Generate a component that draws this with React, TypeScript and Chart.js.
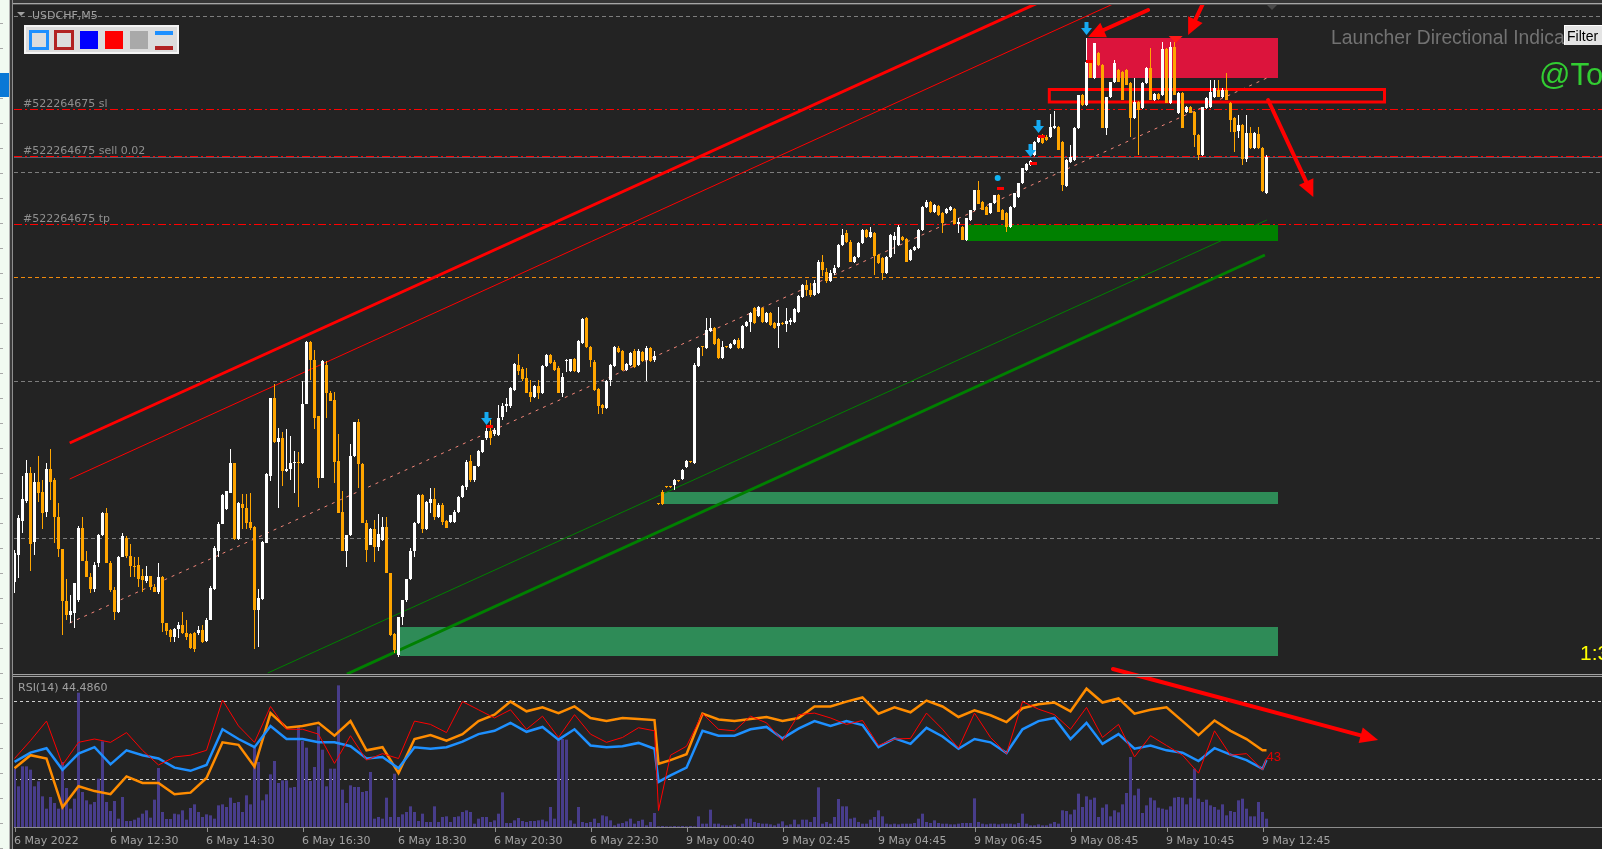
import { useEffect, useRef } from 'react';
import { Chart, registerables } from 'chart.js';

Chart.register(...registerables);

/* ===================== DATA ===================== */
// Prices are stored in points (0.00001) above BASE_PRICE.
const BASE_PRICE = 0.98;
const POINT = 0.00001;

const opens: number[] = [
  418,445,479,499,527,458,518,508,488,531,
  520,483,451,399,385,387,400,472,439,423,
  411,437,465,487,437,410,388,443,462,444,
  434,435,424,419,424,413,408,423,377,370,
  363,371,375,367,366,367,367,370,359,380,
  411,449,476,491,507,537,461,496,492,478,
  473,390,401,457,524,602,558,562,529,531,
  537,538,537,596,658,640,584,522,635,607,
  600,539,488,449,465,544,578,536,477,455,
  471,453,460,473,427,366,345,383,400,421,
  449,477,505,471,497,501,483,495,479,478,
  478,488,503,513,539,520,534,548,562,569,
  566,565,583,594,594,610,635,631,622,608,
  603,614,607,634,645,638,632,607,639,629,
  641,628,657,682,653,638,611,595,592,620,
  634,652,649,630,635,649,635,648,640,652,
  640,497,508,513,513,515,519,521,533,538,
  537,634,653,652,669,672,661,642,653,652,
  656,660,652,674,678,692,684,692,678,687,
  677,674,677,676,678,678,688,703,715,710,
  705,707,738,728,719,727,733,755,767,758,
  738,743,757,770,763,767,745,742,727,743,
  760,755,763,761,740,750,752,770,793,798,
  788,794,787,787,790,791,776,773,760,780,
  790,810,798,793,787,797,805,790,787,773,
  793,803,817,830,835,845,858,863,863,863,
  872,873,858,814,838,840,872,905,895,938,
  922,947,935,872,903,918,930,928,930,917,
  882,898,892,917,932,900,906,905,951,897,
  953,887,907,888,893,888,865,845,892,893,
  903,910,903,910,897,882,869,875,841,867,
  852,866,852,807,
];
const highs: number[] = [
  450,485,524,540,533,527,544,520,537,551,
  522,497,451,421,405,417,474,483,449,427,
  438,466,488,492,439,413,444,467,464,456,
  443,443,431,434,424,416,437,424,377,371,
  372,378,388,380,367,368,374,375,382,414,
  454,478,506,509,551,537,498,506,506,507,
  474,411,459,527,602,616,572,568,571,564,
  549,548,619,659,659,650,584,640,639,609,
  608,566,509,465,556,578,581,537,480,472,
  480,486,483,483,427,367,383,400,421,452,
  478,506,506,499,512,512,497,497,480,485,
  490,504,515,540,545,534,550,560,572,580,
  572,595,597,602,613,637,646,633,632,620,
  615,620,635,646,646,640,634,627,641,641,
  642,660,682,683,654,640,612,596,620,636,
  654,654,650,637,648,651,651,649,654,653,
  649,497,510,514,514,521,520,531,540,539,
  637,653,654,682,682,673,662,659,654,657,
  661,662,675,679,688,693,694,693,688,688,
  678,693,678,692,682,692,705,716,720,717,
  720,740,745,732,730,735,756,771,770,760,
  744,758,771,771,773,768,746,743,744,766,
  768,775,764,762,751,754,771,794,800,799,
  796,795,788,792,794,792,782,774,782,790,
  810,819,799,794,797,805,806,791,788,794,
  807,817,832,837,840,859,864,866,865,886,
  889,874,859,841,855,873,905,906,962,939,
  957,948,936,903,918,940,931,929,931,918,
  922,899,918,933,952,907,907,958,952,958,
  958,908,908,894,894,889,866,893,903,920,
  920,920,912,927,898,883,885,876,885,873,
  868,873,853,845,
];
const lows: number[] = [
  407,422,467,497,429,445,498,471,483,500,
  457,443,365,380,377,372,398,439,423,407,
  408,433,464,437,408,380,387,443,442,423,
  423,413,408,417,410,408,406,368,365,358,
  358,362,366,360,351,348,365,357,358,380,
  410,443,476,490,507,460,460,471,471,470,
  351,353,400,457,519,557,492,514,528,520,
  507,493,536,596,620,571,512,522,582,599,
  517,487,449,433,464,543,512,477,438,455,
  438,449,459,427,364,347,343,375,398,420,
  443,476,467,470,487,480,482,475,472,477,
  477,487,502,510,518,518,533,547,560,555,
  564,564,580,588,592,609,625,619,607,598,
  602,601,606,633,636,629,607,603,628,628,
  628,627,656,652,633,609,586,586,591,614,
  633,647,629,629,634,632,634,638,619,638,
  638,495,495,512,512,510,518,520,532,537,
  536,633,644,651,668,655,641,641,652,651,
  655,651,651,673,668,676,683,677,677,674,
  671,652,675,668,675,677,687,702,704,703,
  704,706,724,717,718,725,732,754,757,738,
  737,742,756,762,762,725,736,720,726,742,
  746,754,759,738,739,749,751,769,792,787,
  787,784,767,786,789,776,767,760,759,779,
  789,796,790,785,786,796,788,780,768,772,
  792,802,816,829,834,844,857,856,859,862,
  871,850,809,813,837,839,871,894,894,922,
  921,934,872,865,902,917,918,900,915,863,
  881,845,891,916,900,899,900,904,897,896,
  905,886,872,887,887,853,840,844,891,892,
  902,903,902,900,868,848,862,835,838,851,
  851,851,808,806,
];
const closes: number[] = [
  447,482,501,527,456,518,507,487,531,518,
  483,451,399,385,389,417,472,439,423,411,
  435,465,487,437,410,388,443,464,444,434,
  433,421,420,424,413,408,423,377,369,363,
  371,375,367,363,352,351,370,358,380,412,
  452,476,505,509,537,461,497,492,477,472,
  390,402,458,526,602,558,562,529,531,537,
  538,537,596,658,640,582,522,639,607,599,
  538,487,449,465,544,578,536,477,450,471,
  453,466,473,427,365,350,383,400,421,449,
  477,505,471,498,501,483,495,478,472,485,
  488,503,514,538,520,534,549,560,569,562,
  570,582,594,596,612,636,629,621,607,603,
  614,607,634,645,637,630,607,623,640,641,
  629,659,681,653,640,610,594,592,619,635,
  653,648,630,636,647,633,649,639,652,639,
  644,496,496,513,513,520,519,530,539,538,
  635,652,653,670,672,656,642,653,653,656,
  660,652,674,678,687,677,693,678,687,675,
  672,677,676,679,680,691,704,715,710,705,
  717,738,730,719,727,732,755,765,758,738,
  743,757,770,763,768,744,737,727,743,765,
  764,773,760,738,750,753,770,793,798,788,
  795,785,777,791,793,776,778,760,782,790,
  810,796,790,785,797,805,788,780,773,793,
  807,817,832,836,839,858,863,857,860,873,
  874,850,815,840,843,872,905,895,938,922,
  957,935,872,903,918,937,918,900,915,882,
  898,890,917,932,900,906,901,951,897,953,
  905,907,872,893,887,865,845,893,902,908,
  912,903,910,900,880,868,875,841,867,852,
  867,852,809,843,
];
// tick volume
const volumes: number[] = [
  175,122,182,182,172,122,137,92,55,90,
  72,55,195,117,55,85,403,105,80,68,
  75,145,257,75,48,78,25,90,18,18,
  22,28,40,50,28,82,177,45,24,24,
  40,38,50,22,57,68,45,30,38,35,
  25,65,68,60,88,72,75,45,95,68,
  238,195,80,98,158,198,132,140,140,118,
  120,302,258,238,138,180,302,232,122,175,
  175,425,112,72,125,120,120,105,108,165,
  25,30,25,88,30,160,30,38,45,62,
  45,18,40,15,15,62,15,30,32,15,
  30,32,45,50,45,10,25,30,30,15,
  20,40,104,12,12,20,27,18,15,18,
  18,20,22,17,60,25,262,264,262,20,
  10,60,15,12,15,25,12,35,32,20,
  5,10,12,17,25,10,18,22,5,15,
  42,2,3,2,2,3,2,3,2,3,
  2,32,10,10,52,10,10,5,5,5,
  8,2,10,25,25,15,12,10,10,8,
  5,10,17,5,8,22,8,22,22,15,
  30,119,10,15,10,30,84,62,62,25,
  28,15,10,10,22,30,50,32,10,8,
  10,8,10,10,10,12,25,40,15,12,
  20,12,10,10,8,8,10,12,12,12,
  86,15,10,8,10,10,8,10,10,10,
  8,12,40,10,5,5,8,5,5,10,
  15,10,50,48,38,52,100,60,92,82,
  88,30,58,68,32,50,44,68,102,210,
  95,115,42,65,88,80,58,55,52,62,
  88,90,88,68,88,175,85,75,82,65,
  60,52,68,35,48,45,80,85,55,32,
  32,75,45,25,
];

const timeTickBars: number[] = [0, 24, 48, 72, 96, 120, 144, 168, 192, 216, 240, 264, 288, 312];
const timeTickLabels: string[] = [
  '6 May 2022', '6 May 12:30', '6 May 14:30', '6 May 16:30', '6 May 18:30', '6 May 20:30',
  '6 May 22:30', '9 May 00:40', '9 May 02:45', '9 May 04:45', '9 May 06:45', '9 May 08:45',
  '9 May 10:45', '9 May 12:45',
];

// oscillator samples (bar index -> value)
const rsiBars: number[] = [
  0,4,8,12,16,20,24,28,32,36,40,44,48,52,56,60,64,68,72,76,80,84,88,92,96,100,104,108,112,116,
  120,124,128,132,136,140,144,148,152,156,160,161,164,168,172,176,180,184,188,192,196,200,204,
  208,212,216,220,224,228,232,236,240,244,248,252,256,260,264,268,272,276,280,284,288,292,296,
  300,304,308,312,313,
];
const rsiBlue: number[] = [
  38.8,43.5,45.8,34.7,43.0,46.3,37.5,44.7,42.2,40.5,
  35.8,34.2,37.2,55.5,50.5,46.3,57.2,50.5,50.5,48.8,
  48.8,46.8,40.5,41.3,35.5,46.3,45.5,46.3,49.2,53.0,
  54.7,58.8,54.2,56.7,50.2,55.5,47.2,46.3,46.8,48.5,
  45.5,28.5,31.8,35.8,54.7,52.2,52.2,55.5,56.7,50.8,
  55.8,59.7,57.2,59.7,57.7,46.3,50.8,48.0,56.2,51.8,
  45.5,50.5,48.8,43.3,55.5,59.7,61.3,50.5,58.8,48.0,
  53.0,45.5,47.2,44.7,43.5,39.2,45.8,42.5,39.7,35.2,
  39.7,
];
const rsiOrange: number[] = [
  35.5,42.2,40.5,15.5,26.3,23.8,22.2,31.3,28.0,28.0,
  22.2,23.0,30.5,48.8,47.5,36.3,63.8,56.3,57.2,58.8,
  52.2,59.7,44.7,46.3,33.0,50.5,52.5,49.7,53.0,59.7,
  63.0,69.7,64.7,66.8,63.8,67.2,61.3,59.7,61.3,60.8,
  60.2,37.8,39.7,42.7,63.5,60.5,59.7,60.8,61.8,59.7,
  61.3,67.2,67.2,69.7,71.8,63.5,66.8,64.2,70.2,67.2,
  61.8,65.2,62.7,59.2,66.3,68.3,69.2,64.7,76.3,69.2,
  71.3,63.5,65.5,66.8,59.7,52.5,60.0,54.7,50.5,44.7,
  44.7,
];
const rsiRed: number[] = [
  40.5,49.7,59.7,37.2,48.8,50.5,48.8,53.8,44.7,37.2,
  41.3,42.2,44.7,70.5,57.2,48.8,67.2,55.5,55.5,53.0,
  38.0,52.2,39.7,43.0,40.5,59.7,58.0,53.8,69.7,65.5,
  61.3,65.5,55.5,62.2,51.3,63.0,53.0,48.8,51.3,56.3,
  54.7,13.8,42.2,46.8,63.5,55.5,54.7,62.2,58.8,49.7,
  63.0,63.8,61.3,58.0,60.0,47.2,50.5,50.8,63.8,55.5,
  45.8,63.8,51.3,43.0,69.7,65.8,63.0,55.5,66.7,51.3,
  58.0,41.3,52.2,47.2,42.2,33.0,54.7,42.2,43.0,34.7,
  40.5,
];
const rsiLevels: number[] = [70, 30];
const rsiTitle = 'RSI(14) 44.4860';
const rsiMarkLabel = '43';
const rsiMarkValue = 43;

// horizontal levels (points above BASE_PRICE)
const grayLevelPts: number[] = [984, 828, 619, 462];
const orangeLevelPts: number[] = [723];
const orderLabels: string[] = ['#522264675 sl', '#522264675 sell 0.02', '#522264675 tp'];
const orderPts: number[] = [891, 844, 776];

// zones: [fromBar, toBar, topPts, bottomPts]
const supplyZone: number[] = [268.0, 315.9, 962, 922];
const demandZoneNear: number[] = [238.2, 315.9, 775, 759];
const demandZoneMid: number[] = [162.1, 315.9, 508, 496];
const demandZoneFar: number[] = [96.4, 315.9, 373, 344];
const entryBox: number[] = [258.7, 342.5, 910.5, 898];

// trend lines: [bar1, pts1, bar2, pts2]
const redChannelUpper: number[] = [13.8, 557, 93.0, 701];
const redChannelLower: number[] = [13.8, 521, 108.8, 694];
const midRegression: number[] = [13.8, 377, 313.1, 922];
const greenChannelUpper: number[] = [63.3, 327, 313.1, 780];
const greenChannelLower: number[] = [83.1, 326, 312.6, 745];

// annotation arrows: [fromBar, fromPts, toBar, toPts]
const priceArrows: number[][] = [
  [283.4, 990, 268.4, 963],
  [297.9, 1003, 293.4, 965],
  [313.4, 900, 324.7, 803],
];
const rsiArrow: number[] = [274.6, 86.4, 340.9, 50.0];

const sellSignalBars: number[] = [118, 254, 256, 268];
const entryMarks: number[][] = [[118, 574], [246, 812], [254, 837], [256, 864], [268, 939]];
const dotMark: number[] = [245.8, 822];
const peakMark: number[] = [290.3, 964];

/* ===================== LAYOUT ===================== */
const W = 1602;
const H = 849;
const PLOT_LEFT = 14;
const FIRST_BAR_X = 14.5;
const BAR_PX = 4;
const MAIN_TOP = 5;
const MAIN_BOTTOM = 674;
const RSI_CANVAS_TOP = 656;
const RSI_PAD_TOP = 20;
const RSI_PAD_BOTTOM = 22;
const X_MIN = (PLOT_LEFT - FIRST_BAR_X) / BAR_PX;
const X_MAX = X_MIN + (W - PLOT_LEFT) / BAR_PX;
const PRICE_MIN = BASE_PRICE + 326 * POINT;
const PRICE_MAX = BASE_PRICE + 995 * POINT;
const RSI_MIN = 5.38;
const RSI_MAX = 82.82;
const VOL_MAX = 453;

const BULL = '#ffffff';
const BEAR = '#ffa500';

const toPrice = (pts: number) => BASE_PRICE + pts * POINT;

function drawArrow(ctx: any, x1: number, y1: number, x2: number, y2: number, color: string, width: number, headLen: number, headHalf: number) {
  const ang = Math.atan2(y2 - y1, x2 - x1);
  const bx = x2 - headLen * Math.cos(ang);
  const by = y2 - headLen * Math.sin(ang);
  ctx.save();
  ctx.setLineDash([]);
  ctx.strokeStyle = color;
  ctx.lineWidth = width;
  ctx.lineCap = 'round';
  ctx.beginPath();
  ctx.moveTo(x1, y1);
  ctx.lineTo(bx, by);
  ctx.stroke();
  ctx.fillStyle = color;
  ctx.beginPath();
  ctx.moveTo(x2, y2);
  ctx.lineTo(bx + headHalf * Math.sin(ang), by - headHalf * Math.cos(ang));
  ctx.lineTo(bx - headHalf * Math.sin(ang), by + headHalf * Math.cos(ang));
  ctx.closePath();
  ctx.fill();
  ctx.restore();
}

function downArrow(ctx: any, cx: number, bottom: number, color: string) {
  ctx.fillStyle = color;
  ctx.beginPath();
  ctx.moveTo(cx - 2, bottom - 13);
  ctx.lineTo(cx + 2, bottom - 13);
  ctx.lineTo(cx + 2, bottom - 7);
  ctx.lineTo(cx + 5.5, bottom - 7);
  ctx.lineTo(cx, bottom);
  ctx.lineTo(cx - 5.5, bottom - 7);
  ctx.lineTo(cx - 2, bottom - 7);
  ctx.closePath();
  ctx.fill();
}

const mainOverlay = {
  id: 'mainOverlay',
  beforeDatasetsDraw(chart: any) {
    const { ctx, chartArea: a } = chart;
    const X = (b: number) => chart.scales.x.getPixelForValue(b);
    const Y = (p: number) => chart.scales.y.getPixelForValue(toPrice(p));
    ctx.save();
    ctx.beginPath();
    ctx.rect(a.left, a.top, a.right - a.left, a.bottom - a.top);
    ctx.clip();

    const zone = (z: number[], color: string) => {
      const x1 = Math.round(X(z[0]));
      const x2 = Math.round(X(z[1]));
      const y1 = Math.round(Y(z[2]));
      const y2 = Math.round(Y(z[3]));
      ctx.fillStyle = color;
      ctx.fillRect(x1, y1, x2 - x1, y2 - y1);
    };
    zone(supplyZone, '#dc143c');
    zone(demandZoneNear, '#008000');
    zone(demandZoneMid, '#2e8b57');
    zone(demandZoneFar, '#2e8b57');

    const hline = (p: number, color: string, dash: number[]) => {
      const y = Math.round(Y(p)) + 0.5;
      ctx.strokeStyle = color;
      ctx.lineWidth = 1;
      ctx.setLineDash(dash);
      ctx.beginPath();
      ctx.moveTo(a.left, y);
      ctx.lineTo(a.right, y);
      ctx.stroke();
    };
    grayLevelPts.forEach((p) => hline(p, '#7d7d7d', [4, 3]));
    orangeLevelPts.forEach((p) => hline(p, '#f08a0c', [4, 3]));
    hline(closes[closes.length - 1], '#5c5c68', []);
    orderPts.forEach((p) => hline(p, '#ff0000', [8, 3, 2, 3]));

    ctx.setLineDash([]);
    ctx.font = '11px "DejaVu Sans"';
    ctx.fillStyle = '#8e8e8e';
    ctx.textAlign = 'left';
    ctx.textBaseline = 'alphabetic';
    orderPts.forEach((p, k) => {
      ctx.fillText(orderLabels[k], a.left + 9, Math.round(Y(p)) - 2);
    });

    const seg = (l: number[], color: string, width: number, dash: number[], ray: boolean) => {
      let x1 = X(l[0]);
      let y1 = Y(l[1]);
      let x2 = X(l[2]);
      let y2 = Y(l[3]);
      if (ray) {
        const k = (y2 - y1) / (x2 - x1);
        x2 = a.right + 40;
        y2 = y1 + k * (x2 - x1);
      }
      ctx.strokeStyle = color;
      ctx.lineWidth = width;
      ctx.setLineDash(dash);
      ctx.beginPath();
      ctx.moveTo(x1, y1);
      ctx.lineTo(x2, y2);
      ctx.stroke();
    };
    seg(midRegression, '#f4877a', 1, [3, 5], false);
    seg(redChannelUpper, '#ff0000', 3, [], true);
    seg(redChannelLower, '#ff0000', 1, [], true);
    seg(greenChannelUpper, '#008000', 1, [], false);
    seg(greenChannelLower, '#008000', 3, [], false);

    // entry box outline
    ctx.setLineDash([]);
    ctx.strokeStyle = '#ff0000';
    ctx.lineWidth = 3;
    const bx1 = X(entryBox[0]);
    const bx2 = X(entryBox[1]);
    const by1 = Y(entryBox[2]);
    const by2 = Y(entryBox[3]);
    ctx.strokeRect(bx1, by1, bx2 - bx1, by2 - by1);
    ctx.restore();
  },
  afterDatasetsDraw(chart: any) {
    const { ctx } = chart;
    const X = (b: number) => chart.scales.x.getPixelForValue(b);
    const Y = (p: number) => chart.scales.y.getPixelForValue(toPrice(p));
    ctx.save();
    entryMarks.forEach((m) => {
      ctx.fillStyle = '#ff0000';
      ctx.fillRect(Math.round(X(m[0]) - 1), Math.round(Y(m[1]) - 1), 7, 3);
    });
    ctx.fillStyle = '#10b4f4';
    ctx.beginPath();
    ctx.arc(X(dotMark[0]), Y(dotMark[1]), 3, 0, Math.PI * 2);
    ctx.fill();
    sellSignalBars.forEach((b) => downArrow(ctx, X(b), Y(highs[b]) - 3, '#16abf2'));
    // peak marker
    const px = X(peakMark[0]);
    const py = Y(peakMark[1]);
    ctx.fillStyle = '#ff1a1a';
    ctx.beginPath();
    ctx.moveTo(px - 7, py);
    ctx.lineTo(px + 7, py);
    ctx.lineTo(px, py + 7);
    ctx.closePath();
    ctx.fill();
    priceArrows.forEach((r) => drawArrow(ctx, X(r[0]), Y(r[1]), X(r[2]), Y(r[3]), '#ff0000', 4, 17, 8));
    ctx.restore();
  },
};

const rsiOverlay = {
  id: 'rsiOverlay',
  beforeDatasetsDraw(chart: any) {
    const { ctx, chartArea: a } = chart;
    const Y = (v: number) => chart.scales.y.getPixelForValue(v);
    ctx.save();
    ctx.strokeStyle = '#cfcfcf';
    ctx.lineWidth = 1;
    ctx.setLineDash([3, 3]);
    rsiLevels.forEach((l) => {
      const y = Math.round(Y(l)) + 0.5;
      ctx.beginPath();
      ctx.moveTo(a.left, y);
      ctx.lineTo(a.right, y);
      ctx.stroke();
    });
    ctx.restore();
  },
  afterDraw(chart: any) {
    const { ctx, chartArea: a, width } = chart;
    const X = (b: number) => chart.scales.x.getPixelForValue(b);
    const Y = (v: number) => chart.scales.y.getPixelForValue(v);
    ctx.save();
    // level mark text
    ctx.font = '13px "Liberation Sans"';
    ctx.fillStyle = '#e00000';
    ctx.textAlign = 'left';
    ctx.textBaseline = 'alphabetic';
    ctx.fillText(rsiMarkLabel, X(rsiBars[rsiBars.length - 1]), Y(rsiMarkValue) + 7);
    // arrow
    drawArrow(ctx, X(rsiArrow[0]), Y(rsiArrow[1]), X(rsiArrow[2]), Y(rsiArrow[3]), '#ff0000', 4, 18, 8);
    // time axis
    ctx.fillStyle = '#8c8c8c';
    ctx.fillRect(0, Math.round(a.bottom), width, 1);
    ctx.font = '11px "DejaVu Sans"';
    timeTickBars.forEach((b, k) => {
      const x = Math.round(X(b));
      ctx.fillStyle = '#8c8c8c';
      ctx.fillRect(x, Math.round(a.bottom) + 1, 1, 4);
      ctx.fillStyle = '#a2a2a2';
      ctx.fillText(timeTickLabels[k], x - 1, Math.round(a.bottom) + 17);
    });
    ctx.restore();
  },
};

function candleColor(i: number) {
  return closes[i] > opens[i] ? BULL : BEAR;
}

function mainConfig(): any {
  const n = Math.min(opens.length, highs.length, lows.length, closes.length);
  const bodies: any[] = [];
  const wicks: any[] = [];
  for (let i = 0; i < n; i++) {
    bodies.push({ x: i, y: [toPrice(opens[i]), toPrice(closes[i])] });
    wicks.push({ x: i, y: [toPrice(lows[i]), toPrice(highs[i])] });
  }
  return {
    type: 'bar',
    data: {
      datasets: [
        {
          label: 'body',
          data: bodies,
          backgroundColor: (c: any) => candleColor(c.dataIndex),
          barThickness: 3,
          grouped: false,
          minBarLength: 1,
          inflateAmount: 0,
          borderWidth: 0,
          order: 0,
        },
        {
          label: 'wick',
          data: wicks,
          backgroundColor: (c: any) => candleColor(c.dataIndex),
          barThickness: 1,
          grouped: false,
          minBarLength: 1,
          inflateAmount: 0,
          borderWidth: 0,
          order: 1,
        },
      ],
    },
    options: {
      animation: false,
      responsive: false,
      devicePixelRatio: 1,
      events: [],
      layout: { padding: 0 },
      plugins: { legend: { display: false }, tooltip: { enabled: false }, title: { display: false } },
      scales: {
        x: { type: 'linear', min: X_MIN, max: X_MAX, display: false, offset: false },
        y: { type: 'linear', min: PRICE_MIN, max: PRICE_MAX, display: false, beginAtZero: false },
      },
    },
    plugins: [mainOverlay],
  };
}

function rsiConfig(): any {
  const line = (vals: number[]) => rsiBars.map((b, k) => ({ x: b, y: vals[k] }));
  return {
    type: 'bar',
    data: {
      datasets: [
        {
          type: 'line',
          label: 'rsi',
          data: line(rsiRed),
          borderColor: '#ff0000',
          borderWidth: 1,
          pointRadius: 0,
          tension: 0,
          yAxisID: 'y',
          order: 0,
        },
        {
          type: 'line',
          label: 'fast',
          data: line(rsiBlue),
          borderColor: '#1e90ff',
          borderWidth: 2.5,
          pointRadius: 0,
          tension: 0,
          yAxisID: 'y',
          order: 1,
        },
        {
          type: 'line',
          label: 'slow',
          data: line(rsiOrange),
          borderColor: '#ff8c00',
          borderWidth: 2.5,
          pointRadius: 0,
          tension: 0,
          yAxisID: 'y',
          order: 2,
        },
        {
          type: 'bar',
          label: 'volume',
          data: volumes.map((v, i) => ({ x: i, y: v })),
          backgroundColor: '#483d8b',
          barThickness: 3,
          grouped: false,
          inflateAmount: 0,
          borderWidth: 0,
          yAxisID: 'yv',
          order: 3,
        },
      ],
    },
    options: {
      animation: false,
      responsive: false,
      devicePixelRatio: 1,
      events: [],
      layout: { padding: { top: RSI_PAD_TOP, bottom: RSI_PAD_BOTTOM, left: 0, right: 0 } },
      plugins: { legend: { display: false }, tooltip: { enabled: false } },
      scales: {
        x: { type: 'linear', min: X_MIN, max: X_MAX, display: false, offset: false },
        y: { type: 'linear', min: RSI_MIN, max: RSI_MAX, display: false },
        yv: { type: 'linear', min: 0, max: VOL_MAX, display: false },
      },
    },
    plugins: [rsiOverlay],
  };
}

const abs = (s: any) => ({ position: 'absolute', ...s });
const text = (s: any) => ({ position: 'absolute', whiteSpace: 'nowrap', lineHeight: 1, ...s });

export default function App() {
  const mainRef = useRef<HTMLCanvasElement>(null);
  const rsiRef = useRef<HTMLCanvasElement>(null);

  useEffect(() => {
    const main = new Chart(mainRef.current as HTMLCanvasElement, mainConfig());
    const rsi = new Chart(rsiRef.current as HTMLCanvasElement, rsiConfig());
    return () => {
      main.destroy();
      rsi.destroy();
    };
  }, []);

  const stripTicks = Array.from({ length: 34 }, (_, k) => 23 + 25 * k);

  return (
    <div style={{ position: 'fixed', left: 0, top: 0, width: W, height: H, background: '#232323', overflow: 'hidden' }}>
      {/* left terminal strip */}
      <div style={abs({ left: 0, top: 0, width: 9, height: H, background: '#f1faf1' })} />
      {stripTicks.map((y) => (
        <div key={y} style={abs({ left: 0, top: y, width: 3, height: 1, background: '#a8a8a8' })} />
      ))}
      <div style={abs({ left: 0, top: 73, width: 9, height: 24, background: '#0a78d6' })} />
      <div style={abs({ left: 9, top: 0, width: 1, height: H, background: '#b4b4b4' })} />
      <div style={abs({ left: 10, top: 0, width: 2, height: H, background: '#3a3a3a' })} />
      <div style={abs({ left: 12, top: 0, width: 1, height: H, background: '#8e8e8e' })} />
      {/* top frame */}
      <div style={abs({ left: 13, top: 0, width: W, height: 3, background: '#353535' })} />
      <div style={abs({ left: 13, top: 3, width: W, height: 1, background: '#a6a6a6' })} />
      <div style={abs({ left: 13, top: 4, width: W, height: 1, background: '#505050' })} />

      <canvas ref={mainRef} width={W - PLOT_LEFT} height={MAIN_BOTTOM - MAIN_TOP} style={abs({ left: PLOT_LEFT, top: MAIN_TOP })} />
      <canvas ref={rsiRef} width={W - PLOT_LEFT} height={H - RSI_CANVAS_TOP} style={abs({ left: PLOT_LEFT, top: RSI_CANVAS_TOP })} />

      {/* panel separator */}
      <div style={abs({ left: 13, top: 674, width: W, height: 1, background: '#a0a0a0' })} />
      <div style={abs({ left: 13, top: 675, width: W, height: 1, background: '#303030' })} />
      <div style={abs({ left: 13, top: 676, width: W, height: 1, background: '#a0a0a0' })} />

      {/* chart shift marker */}
      <div style={abs({ left: 1267, top: 5, width: 0, height: 0, borderLeft: '5px solid transparent', borderRight: '5px solid transparent', borderTop: '5px solid #4a4a4a' })} />

      {/* header */}
      <div style={abs({ left: 17, top: 12, width: 0, height: 0, borderLeft: '4px solid transparent', borderRight: '4px solid transparent', borderTop: '4px solid #a0a0a0' })} />
      <div style={text({ left: 32, top: 10, fontFamily: '"DejaVu Sans"', fontSize: 11, color: '#a0a0a0' })}>USDCHF,M5</div>

      {/* colour toolbox */}
      <div style={abs({ left: 24, top: 25, width: 151, height: 25, background: '#dcdcdc', border: '2px solid #f4f4f4' })} />
      <div style={abs({ left: 29, top: 30, width: 14, height: 14, border: '3px solid #1e90ff', background: '#dcdcdc' })} />
      <div style={abs({ left: 54, top: 30, width: 14, height: 14, border: '3px solid #b22222', background: '#dcdcdc' })} />
      <div style={abs({ left: 80, top: 31, width: 18, height: 18, background: '#0000ff' })} />
      <div style={abs({ left: 105, top: 31, width: 18, height: 18, background: '#ff0000' })} />
      <div style={abs({ left: 130, top: 31, width: 18, height: 18, background: '#a9a9a9' })} />
      <div style={abs({ left: 155, top: 31, width: 18, height: 4, background: '#1e90ff' })} />
      <div style={abs({ left: 155, top: 46, width: 18, height: 4, background: '#b22222' })} />

      {/* right-side labels */}
      <div style={text({ left: 1331, top: 27.5, fontFamily: '"Liberation Sans"', fontSize: 19.3, color: '#727272' })}>Launcher Directional Indica</div>
      <div style={abs({ left: 1564, top: 25, width: 40, height: 20, background: '#e4e4e4', borderTop: '1px solid #ffffff', borderLeft: '1px solid #ffffff', boxSizing: 'border-box' })} />
      <div style={text({ left: 1567, top: 29, fontFamily: '"Liberation Sans"', fontSize: 14, color: '#000000' })}>Filter</div>
      <div style={text({ left: 1539, top: 59, fontFamily: '"Liberation Sans"', fontSize: 31, color: '#32cd32' })}>@To</div>
      <div style={text({ left: 1580, top: 642, fontFamily: '"Liberation Sans"', fontSize: 21, color: '#ffff00' })}>1:3</div>

      {/* sub-window title */}
      <div style={text({ left: 18, top: 682, fontFamily: '"DejaVu Sans"', fontSize: 11, color: '#a0a0a0' })}>{rsiTitle}</div>
    </div>
  );
}
